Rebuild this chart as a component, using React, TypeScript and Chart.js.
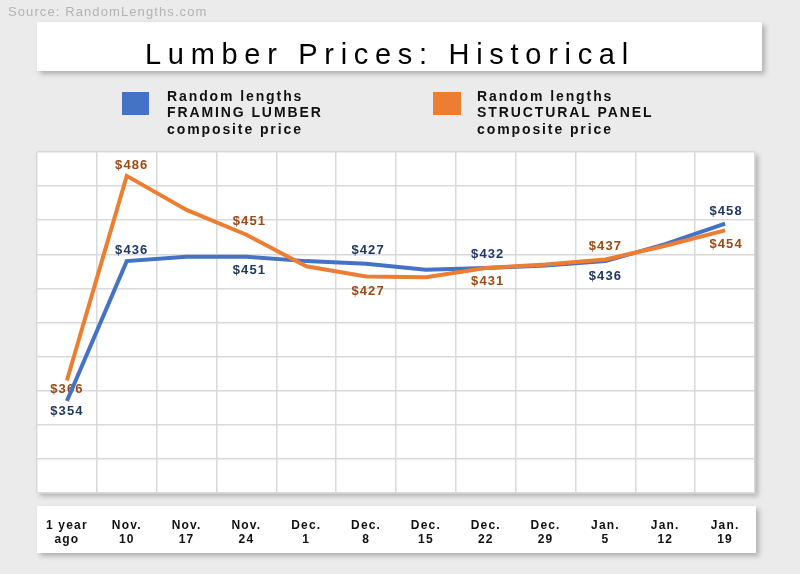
import { useEffect, useRef } from "react";
import { Chart, registerables } from "chart.js";

Chart.register(...registerables);

// ---------- data ----------
const sourceText = "Source: RandomLengths.com";
const chartTitle = "Lumber Prices: Historical";

const weekLabels: string[][] = [
  ["1 year", "ago"],
  ["Nov.", "10"],
  ["Nov.", "17"],
  ["Nov.", "24"],
  ["Dec.", "1"],
  ["Dec.", "8"],
  ["Dec.", "15"],
  ["Dec.", "22"],
  ["Dec.", "29"],
  ["Jan.", "5"],
  ["Jan.", "12"],
  ["Jan.", "19"],
];

const framingName = ["Random lengths", "FRAMING LUMBER", "composite price"];
const panelName = ["Random lengths", "STRUCTURAL PANEL", "composite price"];

const framingPrices = [354, 436, 438.5, 438.5, 436, 434.5, 431, 432, 433.5, 436, 446, 458];
const panelPrices = [366, 486, 466, 451.5, 433, 427, 426.5, 432, 434, 437, 445, 454];

const framingValueLabels = ["$354", "$436", "", "$451", "", "$427", "", "$432", "", "$436", "", "$458"];
const panelValueLabels = ["$366", "$486", "", "$451", "", "$427", "", "$431", "", "$437", "", "$454"];

const yMin = 300;
const yMax = 500;
const yStep = 20;

// ---------- styles ----------
const BLUE = "#4472c4";
const ORANGE = "#ed7d31";
const BLUE_TEXT = "#203864";
const ORANGE_TEXT = "#9c4a14";
const FONT = "'Liberation Sans', Arial, Helvetica, sans-serif";

const framingLabelDy = [10, -11, 0, 14, 0, -13, 0, -14, 0, 15, 0, -12];
const panelLabelDy = [9, -10, 0, -13, 0, 15, 0, 13, 0, -13, 0, 14];
const labelDx = [0, 5, 0, 3, 0, 2, 0, 2, 0, 0, 0, 1];

const decorPlugin = {
  id: "decor",
  beforeDraw(chart: any) {
    const ctx: CanvasRenderingContext2D = chart.ctx;
    const { left, right, top, bottom } = chart.chartArea;
    ctx.save();
    ctx.fillStyle = "#ebebeb";
    ctx.fillRect(0, 0, chart.width, chart.height);

    // source
    ctx.font = `13px ${FONT}`;
    (ctx as any).letterSpacing = "1.1px";
    ctx.fillStyle = "#b3b3b3";
    ctx.textAlign = "left";
    ctx.textBaseline = "alphabetic";
    ctx.fillText(sourceText, 8, 16);

    const shadowBox = (x: number, y: number, w: number, h: number) => {
      ctx.save();
      ctx.shadowColor = "rgba(0,0,0,0.25)";
      ctx.shadowBlur = 5;
      ctx.shadowOffsetX = 3;
      ctx.shadowOffsetY = 3;
      ctx.fillStyle = "#ffffff";
      ctx.fillRect(x, y, w, h);
      ctx.restore();
    };

    // title box
    shadowBox(37, 22, 725, 49);
    ctx.font = `29px ${FONT}`;
    (ctx as any).letterSpacing = "6.7px";
    ctx.fillStyle = "#000000";
    ctx.fillText(chartTitle, 145, 64);

    // legend
    ctx.fillStyle = BLUE;
    ctx.fillRect(122, 92, 27, 23);
    ctx.fillStyle = ORANGE;
    ctx.fillRect(433, 92, 28, 23);
    ctx.font = `bold 14px ${FONT}`;
    (ctx as any).letterSpacing = "1.9px";
    ctx.fillStyle = "#111111";
    framingName.forEach((t, i) => ctx.fillText(t, 167, 100.7 + i * 16.7));
    panelName.forEach((t, i) => ctx.fillText(t, 477, 100.7 + i * 16.7));

    // plot area
    shadowBox(left, top, right - left, bottom - top);
    // x label box
    shadowBox(37, 506, 719, 47);
    ctx.restore();
    (ctx as any).letterSpacing = "1.2px";
  },
};

const valueLabelPlugin = {
  id: "valueLabels",
  beforeDatasetsDraw(chart: any) {
    const ctx: CanvasRenderingContext2D = chart.ctx;
    const sets = [
      { meta: chart.getDatasetMeta(0), labels: framingValueLabels, dy: framingLabelDy, color: BLUE_TEXT },
      { meta: chart.getDatasetMeta(1), labels: panelValueLabels, dy: panelLabelDy, color: ORANGE_TEXT },
    ];
    ctx.save();
    ctx.font = `bold 13px ${FONT}`;
    (ctx as any).letterSpacing = "1.1px";
    ctx.textAlign = "center";
    ctx.textBaseline = "middle";
    sets.forEach((s) => {
      ctx.fillStyle = s.color;
      s.meta.data.forEach((pt: any, i: number) => {
        const t = s.labels[i];
        if (!t) return;
        ctx.fillText(t, pt.x + labelDx[i], pt.y + s.dy[i]);
      });
    });
    ctx.restore();
  },
};

export default function App() {
  const ref = useRef<HTMLCanvasElement | null>(null);

  useEffect(() => {
    document.body.style.margin = "0";
    if (!ref.current) return;
    const chart = new Chart(ref.current, {
      type: "line",
      data: {
        labels: weekLabels as any,
        datasets: [
          {
            label: framingName.join(" "),
            data: framingPrices,
            borderColor: BLUE,
            backgroundColor: BLUE,
            borderWidth: 4,
            pointRadius: 0,
            tension: 0,
            order: 1,
          },
          {
            label: panelName.join(" "),
            data: panelPrices,
            borderColor: ORANGE,
            backgroundColor: ORANGE,
            borderWidth: 4,
            pointRadius: 0,
            tension: 0,
            order: 0,
          },
        ],
      },
      options: {
        responsive: false,
        animation: false,
        layout: { padding: { left: 37, right: 45, top: 152, bottom: 0 } },
        plugins: {
          legend: { display: false },
          title: { display: false },
          tooltip: { enabled: false },
        },
        scales: {
          x: {
            offset: true,
            grid: { offset: true, color: "#d9d9d9", lineWidth: 1.5, drawTicks: false },
            border: { display: true, color: "#d9d9d9", width: 1.5 },
            ticks: {
              padding: 25,
              color: "#111111",
              maxRotation: 0,
              autoSkip: false,
              font: { family: FONT, size: 12, weight: "bold", lineHeight: 1.2 },
            },
            afterFit(scale: any) {
              scale.height = 81;
            },
          },
          y: {
            min: yMin,
            max: yMax,
            ticks: { stepSize: yStep, display: false },
            grid: { color: "#d9d9d9", lineWidth: 1.5, drawTicks: false },
            border: { display: false },
            afterFit(scale: any) {
              scale.width = 0;
            },
          },
        },
      },
      plugins: [decorPlugin, valueLabelPlugin],
    } as any);
    return () => chart.destroy();
  }, []);

  return <canvas ref={ref} width={800} height={574} style={{ display: "block" }} />;
}
